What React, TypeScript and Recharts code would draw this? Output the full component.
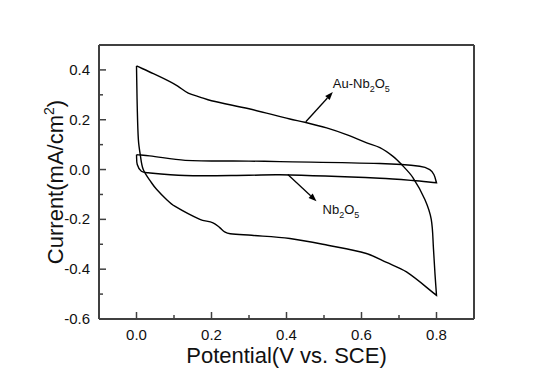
import {
  LineChart,
  Line,
  XAxis,
  YAxis,
  ReferenceLine,
  ReferenceDot,
  Label,
} from 'recharts';

// Au-Nb2O5 loop: anodic scan along the top, cathodic scan back along the bottom
const auX = [
  0.0, 0.045, 0.089, 0.11, 0.138, 0.169, 0.2, 0.3, 0.409, 0.449, 0.507, 0.56, 0.614, 0.649, 0.684,
  0.707, 0.737, 0.769, 0.786, 0.792, 0.796, 0.8,
  0.72, 0.667, 0.613, 0.51, 0.409, 0.307, 0.25, 0.235, 0.222, 0.204, 0.169, 0.102, 0.08, 0.054,
  0.04, 0.018, 0.01, 0.005, 0.002, 0.0,
];
const auY = [
  0.416, 0.385, 0.353, 0.335, 0.307, 0.291, 0.276, 0.244, 0.203, 0.19, 0.167, 0.14, 0.107, 0.088, 0.053,
  0.02, -0.032, -0.12, -0.2, -0.32, -0.42, -0.505,
  -0.411, -0.373, -0.337, -0.304, -0.277, -0.264, -0.258, -0.25, -0.233, -0.214, -0.2, -0.147, -0.12, -0.08,
  -0.053, 0.0, 0.06, 0.12, 0.25, 0.416,
];

// Nb2O5 loop
const nbX = [
  0.0, 0.035, 0.13, 0.3, 0.382, 0.649, 0.755, 0.782, 0.793, 0.8,
  0.737, 0.649, 0.382, 0.3, 0.129, 0.031, 0.013, 0.002, 0.0,
];
const nbY = [
  0.06, 0.055, 0.037, 0.034, 0.032, 0.024, 0.013, 0.0, -0.02, -0.053,
  -0.044, -0.035, -0.021, -0.023, -0.024, -0.013, -0.007, 0.02, 0.06,
];

const xTicks = [-0.1, 0.0, 0.1, 0.2, 0.3, 0.4, 0.5, 0.6, 0.7, 0.8, 0.9];
const yTicks = [-0.6, -0.5, -0.4, -0.3, -0.2, -0.1, 0.0, 0.1, 0.2, 0.3, 0.4, 0.5];

const auData = auX.map((x, i) => ({ x, y: auY[i] }));
const nbData = nbX.map((x, i) => ({ x, y: nbY[i] }));

const FONT = '"Liberation Sans", Arial, sans-serif';
const AXIS = '#404040';

const isMajor = (v: number) => Math.round(v * 10) % 2 === 0;

// smooth curve through the points, keeping sharp turns (scan reversals) as corners
const smoothLoop = (context: any) => {
  let pts: number[][] = [];
  const dist = (a: number[], b: number[]) => Math.hypot(b[0] - a[0], b[1] - a[1]) || 1e-6;
  const isCorner = (i: number) => {
    if (i <= 0 || i >= pts.length - 1) return true;
    const a = pts[i - 1], b = pts[i], c = pts[i + 1];
    const ux = b[0] - a[0], uy = b[1] - a[1], vx = c[0] - b[0], vy = c[1] - b[1];
    const cos = (ux * vx + uy * vy) / (dist(a, b) * dist(b, c));
    return cos < 0.5;
  };
  return {
    areaStart() {},
    areaEnd() {},
    lineStart() {
      pts = [];
    },
    point(x: number, y: number) {
      pts.push([x, y]);
    },
    lineEnd() {
      if (!pts.length) return;
      context.moveTo(pts[0][0], pts[0][1]);
      for (let i = 0; i < pts.length - 1; i++) {
        const p1 = pts[i], p2 = pts[i + 1];
        const d12 = dist(p1, p2);
        let c1: number[], c2: number[];
        if (isCorner(i)) {
          c1 = [p1[0] + (p2[0] - p1[0]) / 3, p1[1] + (p2[1] - p1[1]) / 3];
        } else {
          const p0 = pts[i - 1];
          const k = d12 / (dist(p0, p1) + d12) / 3;
          c1 = [p1[0] + (p2[0] - p0[0]) * k, p1[1] + (p2[1] - p0[1]) * k];
        }
        if (isCorner(i + 1)) {
          c2 = [p2[0] - (p2[0] - p1[0]) / 3, p2[1] - (p2[1] - p1[1]) / 3];
        } else {
          const p3 = pts[i + 2];
          const k = d12 / (d12 + dist(p2, p3)) / 3;
          c2 = [p2[0] - (p3[0] - p1[0]) * k, p2[1] - (p3[1] - p1[1]) * k];
        }
        context.bezierCurveTo(c1[0], c1[1], c2[0], c2[1], p2[0], p2[1]);
      }
    },
  };
};

const XTick = (props: any) => {
  const { x, y, payload } = props;
  const v = payload.value;
  if (v <= -0.1 || v >= 0.9) return <g />;
  const major = isMajor(v);
  return (
    <g>
      <line x1={x} y1={y} x2={x} y2={y - (major ? 7 : 4)} stroke={AXIS} strokeWidth={1.5} />
      {major && (
        <text x={x} y={y + 21} textAnchor="middle" fontSize={15} fontFamily={FONT} fill="#111">
          {v.toFixed(1)}
        </text>
      )}
    </g>
  );
};

const YTick = (props: any) => {
  const { x, y, payload } = props;
  const v = payload.value;
  if (v >= 0.5) return <g />;
  const major = isMajor(v);
  return (
    <g>
      <line x1={x} y1={y} x2={x + (major ? 7 : 4)} y2={y} stroke={AXIS} strokeWidth={1.5} />
      {major && (
        <text x={x - 9} y={y + 5} textAnchor="end" fontSize={15} fontFamily={FONT} fill="#111">
          {v.toFixed(1)}
        </text>
      )}
    </g>
  );
};

const Arrow = (props: any) => {
  const { x1, y1, x2, y2 } = props;
  const a = Math.atan2(y2 - y1, x2 - x1);
  const len = 8;
  const w = 3;
  const bx = x2 - len * Math.cos(a);
  const by = y2 - len * Math.sin(a);
  const px = -Math.sin(a) * w;
  const py = Math.cos(a) * w;
  return (
    <g>
      <line x1={x1} y1={y1} x2={bx} y2={by} stroke="#000" strokeWidth={1.3} />
      <polygon points={`${x2},${y2} ${bx + px},${by + py} ${bx - px},${by - py}`} fill="#000" />
    </g>
  );
};

const Formula = ({ cx, cy, prefix }: any) => (
  <text x={cx} y={cy} fontSize={13} fontFamily={FONT} fill="#111">
    {prefix}Nb
    <tspan fontSize={9} dy={4}>2</tspan>
    <tspan dy={-4}>O</tspan>
    <tspan fontSize={9} dy={4}>5</tspan>
  </text>
);

const App = () => {
  return (
    <div style={{ position: 'absolute', left: 0, top: 0, background: '#fff' }}>
      <LineChart width={550} height={383} margin={{ top: 45, right: 76, bottom: 0, left: 0 }}>
        <XAxis
          type="number"
          dataKey="x"
          domain={[-0.1, 0.9]}
          ticks={xTicks}
          interval={0}
          height={64}
          tickSize={0}
          tickMargin={0}
          tickLine={false}
          tick={<XTick />}
          axisLine={{ stroke: AXIS, strokeWidth: 2 }}
          allowDataOverflow
        >
          <Label
            content={(p: any) => (
              <text
                x={p.viewBox.x + p.viewBox.width / 2}
                y={p.viewBox.y + 44}
                textAnchor="middle"
                fontSize={22}
                fontFamily={FONT}
                fill="#111"
              >
                Potential(V vs. SCE)
              </text>
            )}
          />
        </XAxis>
        <YAxis
          type="number"
          dataKey="y"
          domain={[-0.6, 0.5]}
          ticks={yTicks}
          interval={0}
          width={99}
          tickSize={0}
          tickMargin={0}
          tickLine={false}
          tick={<YTick />}
          axisLine={{ stroke: AXIS, strokeWidth: 2 }}
          allowDataOverflow
        >
          <Label
            content={(p: any) => {
              const cx = p.viewBox.x + 63;
              const cy = p.viewBox.y + p.viewBox.height / 2;
              return (
                <text
                  transform={`translate(${cx},${cy}) rotate(-90)`}
                  textAnchor="middle"
                  fontSize={22}
                  fontFamily={FONT}
                  fill="#111"
                >
                  Current(mA/cm
                  <tspan fontSize={14} dy={-9}>2</tspan>
                  <tspan dy={9}>)</tspan>
                </text>
              );
            }}
          />
        </YAxis>
        <ReferenceLine y={0.5} stroke={AXIS} strokeWidth={2} />
        <ReferenceLine x={0.9} stroke={AXIS} strokeWidth={2} />

        <Line
          data={auData}
          dataKey="y"
          type={smoothLoop as any}
          stroke="#000"
          strokeWidth={1.4}
          dot={false}
          isAnimationActive={false}
        />
        <Line
          data={nbData}
          dataKey="y"
          type={smoothLoop as any}
          stroke="#000"
          strokeWidth={1.4}
          dot={false}
          isAnimationActive={false}
        />

        <ReferenceLine
          segment={[{ x: 0.4515, y: 0.192 }, { x: 0.5235, y: 0.311 }]}
          shape={<Arrow />}
          ifOverflow="visible"
        />
        <ReferenceLine
          segment={[{ x: 0.4035, y: -0.02 }, { x: 0.48, y: -0.127 }]}
          shape={<Arrow />}
          ifOverflow="visible"
        />
        <ReferenceDot x={0.5235} y={0.328} r={0} shape={<Formula prefix="Au-" />} ifOverflow="visible" />
        <ReferenceDot x={0.496} y={-0.18} r={0} shape={<Formula prefix="" />} ifOverflow="visible" />
      </LineChart>
    </div>
  );
};

export default App;
